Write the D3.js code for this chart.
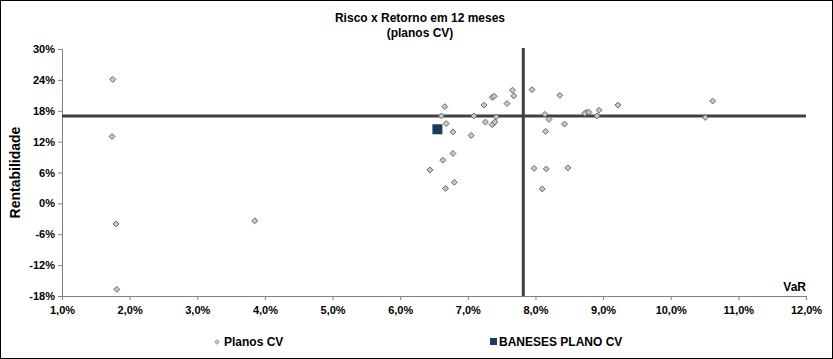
<!DOCTYPE html>
<html><head><meta charset="utf-8">
<script src="https://cdn.jsdelivr.net/npm/d3@7"></script>
<style>
body{margin:0;background:#fff;}
text{font-family:"Liberation Sans",Arial,sans-serif;font-weight:bold;fill:#000;}
</style></head>
<body><svg id="c" width="833" height="359"></svg>
<script>
// Data (percent)
const planosVaR = [1.75,1.74,1.80,1.81,3.85,
  7.66,7.68,7.95,8.36,7.36,7.39,7.24,7.58,6.66,6.61,7.09,7.42,9.22,8.94,8.76,8.73,8.79,8.91,
  8.14,8.20,6.68,7.26,7.38,7.36,7.40,8.43,6.78,8.15,7.05,6.78,6.63,6.44,7.98,8.16,8.48,6.80,6.67,8.10,
  10.62,10.51];
const planosRet = [24.1,13.0,-4.0,-16.7,-3.4,
  22.0,20.9,22.1,21.0,20.6,20.8,19.1,19.4,18.8,17.0,17.0,16.8,19.1,18.1,17.7,17.5,17.7,17.0,
  17.3,16.3,15.5,15.8,15.5,15.3,15.8,15.4,13.9,14.0,13.2,9.7,8.4,6.5,6.8,6.7,6.9,4.1,2.9,2.8,
  19.9,16.7];
const banesesVaR = [6.55];
const banesesRet = [14.4];
const refVaR = 7.82;
const refRet = 17.0;
const xTicks = [1,2,3,4,5,6,7,8,9,10,11,12];
const yTicks = [-18,-12,-6,0,6,12,18,24,30];
const title1 = "Risco x Retorno em 12 meses";
const title2 = "(planos CV)";

const svg = d3.select("#c");
svg.append("rect").attr("x",0.5).attr("y",0.5).attr("width",832).attr("height",358)
  .attr("fill","#fff").attr("stroke","#000");

const L=62,R=806,T=49,B=296;
const x = d3.scaleLinear().domain([1,12]).range([L,R]);
const y = d3.scaleLinear().domain([-18,30]).range([B,T]);

svg.append("text").attr("x",420).attr("y",22).attr("text-anchor","middle").attr("font-size",12).text(title1);
svg.append("text").attr("x",420).attr("y",37).attr("text-anchor","middle").attr("font-size",12).text(title2);

const fmtX = d => d.toFixed(1).replace(".",",")+"%";
const fmtY = d => d+"%";

const gy = svg.append("g").attr("transform",`translate(${L},0)`)
  .call(d3.axisLeft(y).tickValues(yTicks).tickFormat(fmtY).tickSize(4).tickPadding(3));
const gx = svg.append("g").attr("transform",`translate(0,${B})`)
  .call(d3.axisBottom(x).tickValues(xTicks).tickFormat(fmtX).tickSize(4).tickPadding(6));
[gx,gy].forEach(g=>{
  g.selectAll(".domain").attr("stroke","#808080");
  g.selectAll(".tick line").attr("stroke","#808080");
  g.selectAll("text").attr("font-size",11).attr("font-family","'Liberation Sans',Arial,sans-serif").attr("font-weight","bold").attr("fill","#000");
});

// reference lines
svg.append("line").attr("x1",L).attr("x2",R).attr("y1",y(refRet)).attr("y2",y(refRet))
  .attr("stroke","#404040").attr("stroke-width",3);
svg.append("line").attr("x1",x(refVaR)).attr("x2",x(refVaR)).attr("y1",T-1).attr("y2",B)
  .attr("stroke","#404040").attr("stroke-width",3);

// axis titles
svg.append("text").attr("transform",`translate(20,${(T+B)/2}) rotate(-90)`).attr("text-anchor","middle")
  .attr("font-size",14).text("Rentabilidade");
svg.append("text").attr("x",R).attr("y",291).attr("text-anchor","end").attr("font-size",12).text("VaR");

const diamond = d3.symbol().type(d3.symbolDiamond2).size(22);
svg.append("g").selectAll("path").data(planosVaR.map((v,i)=>[v,planosRet[i]])).join("path")
  .attr("transform",d=>`translate(${x(d[0])},${y(d[1])})`).attr("d",diamond)
  .attr("fill","#c8c8c8").attr("stroke","#666").attr("stroke-width",1);
svg.append("g").selectAll("rect").data(banesesVaR.map((v,i)=>[v,banesesRet[i]])).join("rect")
  .attr("x",d=>x(d[0])-5).attr("y",d=>y(d[1])-5).attr("width",10).attr("height",10)
  .attr("fill","#1f3a60");

// legend
const lg = svg.append("g");
lg.append("path").attr("transform","translate(217,342)").attr("d",d3.symbol().type(d3.symbolDiamond2).size(14)())
  .attr("fill","#c8c8c8").attr("stroke","#888").attr("stroke-width",0.8);
lg.append("text").attr("x",224).attr("y",346).attr("font-size",12).text("Planos CV");
lg.append("rect").attr("x",490).attr("y",338).attr("width",7).attr("height",7).attr("fill","#1f3a60");
lg.append("text").attr("x",499).attr("y",346).attr("font-size",12).text("BANESES PLANO CV");
</script></body></html>
